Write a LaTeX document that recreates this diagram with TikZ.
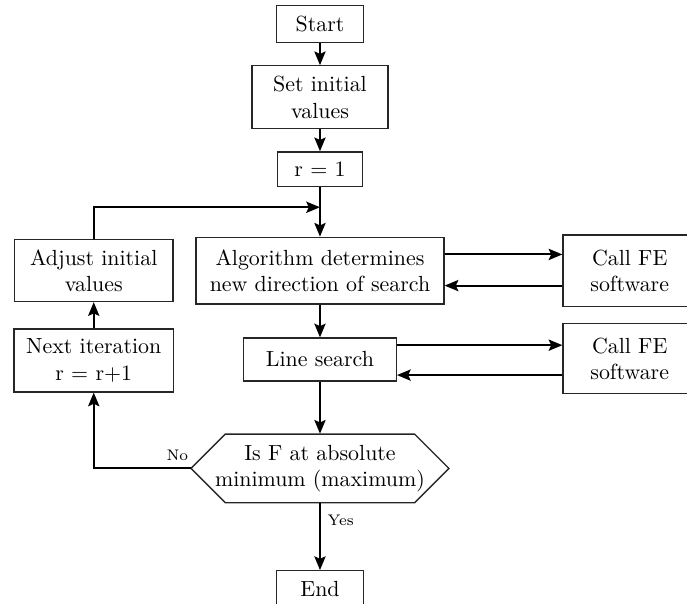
\documentclass[tikz,border=0pt]{standalone}
\usepackage{tikz}
\usetikzlibrary{arrows.meta, positioning, calc}
\tikzset{every node/.append style={align=center, inner sep=3pt}}

\begin{document}
\begin{tikzpicture}[
    box/.style={rectangle, draw=black!85, line width=0.6pt, align=center},
    outl/.style={draw=black!85, line width=0.6pt},
    lbl/.style={font=\scriptsize, inner sep=3pt},
    a/.style={-{Stealth[length=2.2mm, width=1.8mm, inset=0.4mm]}, line width=0.9pt}
]
% ===== MAIN COLUMN =====
\node[box, minimum width=1.39cm, minimum height=0.59cm] (start) {Start};
\node[box, minimum width=2.18cm, minimum height=1.01cm, below=0.355cm of start] (init) {Set initial\\values};
\node[box, minimum width=1.36cm, minimum height=0.55cm, below=0.35cm of init] (r1) {r = 1};
\node[box, minimum width=3.98cm, minimum height=1.07cm, below=0.80cm of r1] (alg)
    {Algorithm determines\\new direction of search};
\node[box, minimum width=2.45cm, minimum height=0.69cm, below=0.525cm of alg] (ls) {Line search};
\node[minimum width=4.14cm, minimum height=1.1cm, below=0.835cm of ls] (dec)
    {Is F at absolute\\minimum (maximum)};
\draw[outl] ($(dec.center)+(-2.07,0)$) coordinate (decw) -- ++(0.55,0.55) -- ++(3.04,0)
    -- ++(0.55,-0.55) -- ++(-0.55,-0.55) -- ++(-3.04,0) -- cycle;
\node[box, minimum width=1.39cm, minimum height=0.59cm, below=1.075cm of dec] (stop) {End};

% ===== LEFT LOOP =====
\node[box, minimum width=2.54cm, minimum height=0.99cm, left=0.35cm of alg] (adj) {Adjust initial\\values};
\node[box, minimum width=2.56cm, minimum height=1.01cm, below=0.42cm of adj] (next) {Next iteration\\r = r+1};

% ===== FE CALLS =====
\node[box, minimum width=2.14cm, minimum height=1.14cm, right=1.89cm of alg] (fe1) {Call FE\\software};
\node[box, minimum width=2.14cm, minimum height=1.12cm, below=0.26cm of fe1] (fe2) {Call FE\\software};

\draw[a] (start) -- (init); \draw[a] (init) -- (r1); \draw[a] (r1) -- (alg);
\draw[a] (alg) -- (ls); \draw[a] (ls) -- (dec);
\draw[a] (dec) -- node[lbl, pos=0.25, right] {Yes} (stop);
\draw[a] (decw) -| node[lbl, pos=0.07, above] {No} (next);
\draw[a] (next) -- (adj);
\coordinate (join) at ($(r1.south)!0.41!(alg.north)$);
\draw[a] (adj) |- (join);

\draw[a] ([yshift=0.26cm]alg.east) -- ([yshift=0.26cm]alg.east -| fe1.west);
\draw[a] ([yshift=-0.24cm]alg.east -| fe1.west) -- ([yshift=-0.24cm]alg.east);
\draw[a] ([yshift=0.23cm]ls.east) -- ([yshift=0.23cm]ls.east -| fe2.west);
\draw[a] ([yshift=-0.25cm]ls.east -| fe2.west) -- ([yshift=-0.25cm]ls.east);

\pgfresetboundingbox
\useasboundingbox ($(adj.west |- start.north)+(-0.224,0.08)$) rectangle ($(fe1.west |- stop.north)+(2.0,-0.53)$);
\end{tikzpicture}
\end{document}
